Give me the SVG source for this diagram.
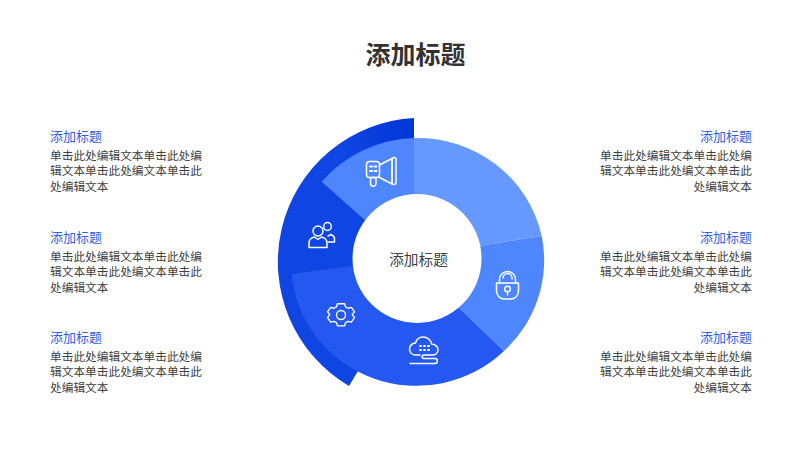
<svg xmlns="http://www.w3.org/2000/svg" width="800" height="450" viewBox="0 0 800 450">
<style>
text{font-family:"Noto Sans CJK SC","Liberation Sans",sans-serif}
.t{font-size:25px;font-weight:700;fill:#333;text-anchor:middle}
.c{font-size:14.67px;fill:#404040;text-anchor:middle}
.h{font-size:13px;fill:#2f5fe0}
.b{font-size:11.7px;fill:#404040}
.r{text-anchor:end}
.i{fill:none;stroke:#fff;stroke-width:1.5;stroke-linecap:round;stroke-linejoin:round}
</style>
<defs>
<linearGradient id="g" gradientUnits="userSpaceOnUse" x1="414" y1="118" x2="350" y2="160">
<stop offset="0" stop-color="#0035d6"/><stop offset="1" stop-color="#0f45e2"/>
</linearGradient>
</defs>
<rect width="800" height="450" fill="#fff"/>
<text class="t" x="415.500" y="64">添加标题</text>
<g id="connectors"/>
<g id="ring">
<path id="outer" d="M414 118A144 144 0 0 0 349 386L358 371L414 262Z" fill="url(#g)"/>
<path id="seg-top-left" d="M321.7 181.700A127 124.500 0 0 1 414 138L414 198L367 222Z" fill="#4d86ff"/>
<path id="seg-top-right" d="M414 138A127 124.500 0 0 1 541.700 236L478 246L414 198Z" fill="#6699ff"/>
<path id="seg-right" d="M541.700 236A126 124 0 0 1 504 351L455 304L478 246Z" fill="#4d86ff"/>
<path id="seg-bottom" d="M291.500 274A125.500 123 0 0 0 504 351L455 304L355 265.500Z" fill="#2458f0"/>
<circle cx="417" cy="258.500" r="64.500" fill="#fff"/>
</g>
<g id="center"><text class="c" x="418.500" y="265">添加标题</text></g>
<g id="icon-megaphone" class="i">
<rect x="366.500" y="161.500" width="13" height="16" rx="3"/>
<path d="M379.500 165L392 158.500V184L379.500 177.500"/>
<rect x="392" y="157.500" width="4" height="27" rx="2"/>
<path d="M370.500 177.500H376V183.500a2.700 2.700 0 0 1-5.500 0Z"/>
<path d="M370 166.500h2M374.500 166.500h2M370 171h2M374.500 171h2" stroke-width="2"/>
</g>
<g id="icon-people" class="i">
<circle cx="318" cy="231" r="5"/>
<path d="M309 247.500v-4.500c0-3 2.500-5.500 5.500-6l3.500 2.500 3.500-2.500c3 .5 5.500 3 5.500 6v4.500Z"/>
<ellipse cx="327.500" cy="226.500" rx="3.800" ry="4"/>
<path d="M328 236l3-1.500c2 1 3.500 2 3.500 4V242h-6"/>
</g>
<g id="icon-gear" class="i" transform="translate(341 315) scale(.9) translate(-341 -315)">
<circle cx="341" cy="315" r="5"/>
<path d="M337 302.500h8l1 3.500 3 1.500 3.500-1 3.500 5-2.500 3 2.500 3.500-3.500 5-3.500-1-3 1.500-1 3.500h-8l-1-3.500-3-1.500-3.500 1-3.500-5 2.500-3.500-2.500-3 3.500-5 3.500 1 3-1.500Z"/>
</g>
<g id="icon-lock" class="i">
<path d="M496.500 283h22v8a8 8 0 0 1-8 8h-6a8 8 0 0 1-8-8Z"/>
<path d="M499.500 283v-3.500a8 8 0 0 1 16 0V283"/>
<path d="M503 278a4.500 4.500 0 0 1 9 0v1"/>
<circle cx="507.500" cy="289" r="2.800"/>
<path d="M507.500 292v3"/>
</g>
<g id="icon-cloud" class="i">
<path d="M420 355h-5c-3.500 0-5.500-3-5.500-6s2.500-6 6-6c1-3.500 4-6 7.500-6 4.500 0 8 3 8.500 7 4 .5 6.500 3 6.500 6 0 3-2.500 5-6 5H424c-2.500 0-2.500 3.500 0 3.500h11c3 0 3 5 0 5h-25"/>
<path d="M420 346h1M424 346h1M428 346h1M420 350h1M424 350h1M428 350h1" stroke-width="1.800"/>
</g>
<g id="left-1"><text class="h" x="50" y="141">添加标题</text><text class="b" x="50" y="159.500">单击此处编辑文本单击此处编</text><text class="b" x="50" y="175">辑文本单击此处编文本单击此</text><text class="b" x="50" y="190.500">处编辑文本</text></g>
<g id="left-2"><text class="h" x="50" y="242">添加标题</text><text class="b" x="50" y="260.500">单击此处编辑文本单击此处编</text><text class="b" x="50" y="276">辑文本单击此处编文本单击此</text><text class="b" x="50" y="291.500">处编辑文本</text></g>
<g id="left-3"><text class="h" x="50" y="342">添加标题</text><text class="b" x="50" y="360.500">单击此处编辑文本单击此处编</text><text class="b" x="50" y="376">辑文本单击此处编文本单击此</text><text class="b" x="50" y="391.500">处编辑文本</text></g>
<g id="right-1"><text class="h r" x="752" y="141">添加标题</text><text class="b r" x="752" y="159.500">单击此处编辑文本单击此处编</text><text class="b r" x="752" y="175">辑文本单击此处编文本单击此</text><text class="b r" x="752" y="190.500">处编辑文本</text></g>
<g id="right-2"><text class="h r" x="752" y="242">添加标题</text><text class="b r" x="752" y="260.500">单击此处编辑文本单击此处编</text><text class="b r" x="752" y="276">辑文本单击此处编文本单击此</text><text class="b r" x="752" y="291.500">处编辑文本</text></g>
<g id="right-3"><text class="h r" x="752" y="342">添加标题</text><text class="b r" x="752" y="360.500">单击此处编辑文本单击此处编</text><text class="b r" x="752" y="376">辑文本单击此处编文本单击此</text><text class="b r" x="752" y="391.500">处编辑文本</text></g>
</svg>
